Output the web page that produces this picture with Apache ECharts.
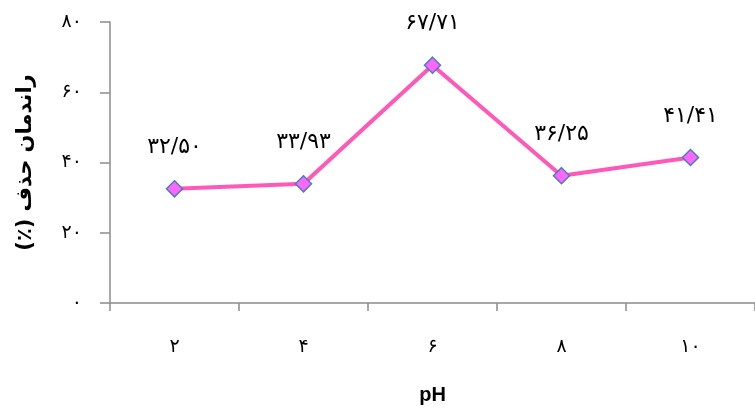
<!DOCTYPE html>
<html><head><meta charset="utf-8">
<script src="https://cdn.jsdelivr.net/npm/echarts@6/dist/echarts.min.js"></script>
<style>html,body{margin:0;padding:0;background:#fff}#c{width:755px;height:410px}</style>
</head><body><div id="c"></div>
<script>
const categories = ['۲', '۴', '۶', '۸', '۱۰'];
const values = [32.50, 33.93, 67.71, 36.25, 41.41];
const yTickLabels = {0: '۰', 20: '۲۰', 40: '۴۰', 60: '۶۰', 80: '۸۰'};
const xName = 'pH';
const yName = '\u200Fراندمان حذف (٪)\u200F';

const fa = '۰۱۲۳۴۵۶۷۸۹';
function toFa(s){ return String(s).replace(/[0-9]/g, d => fa[+d]); }
function fmtVal(v){ return toFa(v.toFixed(2)).replace('.', '/'); }

const axisColor = '#8c8c8c';
const font = 'DejaVu Sans';
const chart = echarts.init(document.getElementById('c'), null, {renderer: 'canvas'});
chart.setOption({
  animation: false,
  backgroundColor: '#fff',
  grid: {left: 110, top: 22, bottom: 105, right: -8, containLabel: false},
  xAxis: {
    type: 'category', data: categories, boundaryGap: true,
    name: xName, nameLocation: 'middle', nameGap: 82,
    nameTextStyle: {fontFamily: 'Liberation Sans', fontWeight: 'bold', fontSize: 20, color: '#000'},
    axisLine: {lineStyle: {color: axisColor, width: 1.5}},
    axisTick: {show: true, length: 8, lineStyle: {color: axisColor, width: 1.5}},
    axisLabel: {margin: 35, fontFamily: font, fontSize: 19, color: '#000'}
  },
  yAxis: {
    type: 'value', min: 0, max: 80, interval: 20,
    name: yName, nameLocation: 'middle', nameGap: 74, nameRotate: 90,
    nameTextStyle: {fontFamily: font, fontWeight: 'bold', fontSize: 21, color: '#000'},
    axisLine: {show: true, lineStyle: {color: axisColor, width: 1.5}},
    axisTick: {show: true, length: 10, lineStyle: {color: axisColor, width: 1.5}},
    splitLine: {show: false},
    axisLabel: {margin: 28, fontFamily: font, fontSize: 19, color: '#000',
      formatter: v => yTickLabels[v] !== undefined ? yTickLabels[v] : toFa(v)}
  },
  series: [{
    type: 'line', data: values,
    symbol: 'diamond', symbolSize: 16,
    lineStyle: {color: '#ff58b8', width: 4},
    itemStyle: {color: '#ff66ff', borderColor: '#4a7ebb', borderWidth: 1.5},
    label: {show: true, position: 'top', distance: 22, fontFamily: font, fontSize: 22, color: '#000',
      formatter: p => fmtVal(p.value)}
  }]
});
</script></body></html>
